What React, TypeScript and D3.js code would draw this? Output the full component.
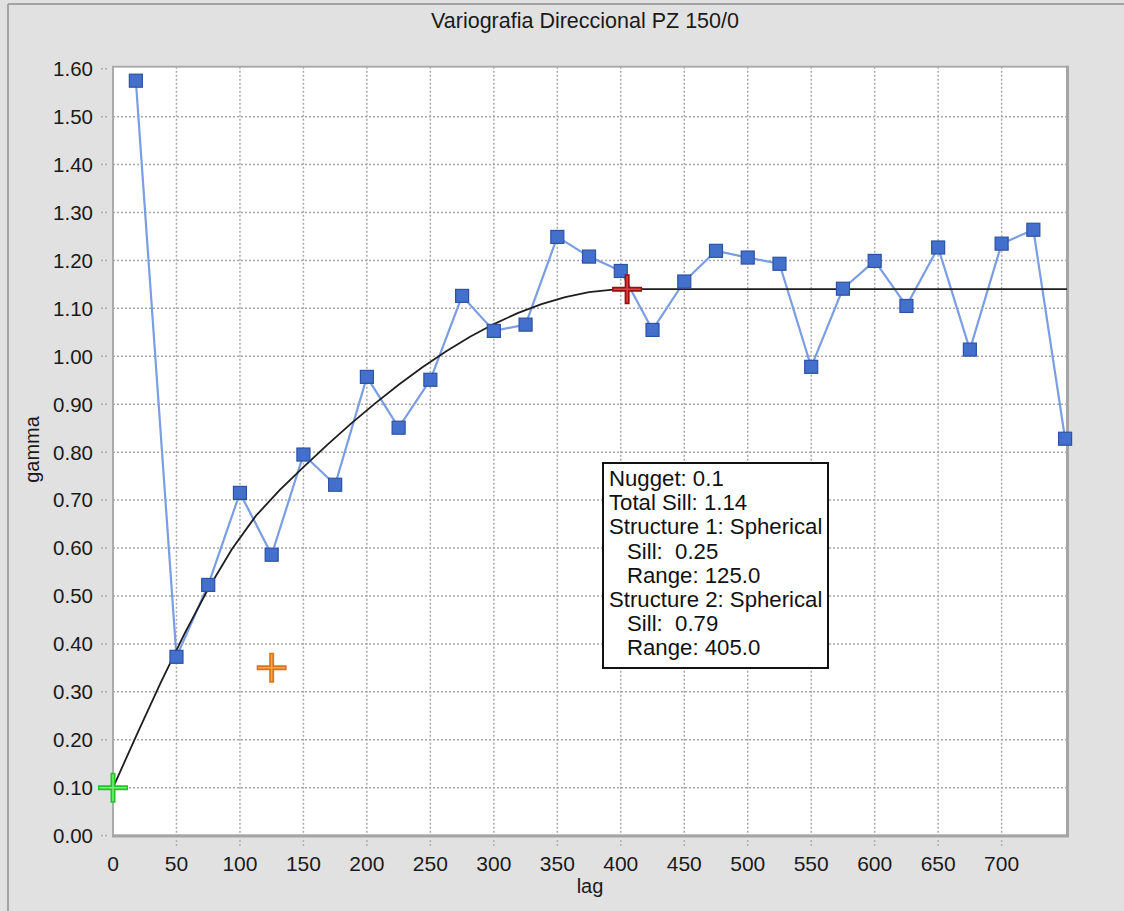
import React from "react";
import * as d3 from "d3";

// Experimental variogram: lag distances and gamma values
const lags = [18, 50, 75, 100, 125, 150, 175, 200, 225, 250, 275, 300, 325, 350, 375, 400, 425, 450, 475, 500, 525, 550, 575, 600, 625, 650, 675, 700, 725, 750];
const gammaValues = [1.575, 0.373, 0.523, 0.715, 0.586, 0.795, 0.732, 0.957, 0.851, 0.951, 1.126, 1.053, 1.066, 1.249, 1.208, 1.178, 1.055, 1.156, 1.22, 1.206, 1.193, 0.978, 1.141, 1.199, 1.105, 1.227, 1.014, 1.235, 1.264, 0.828];

// Fitted model parameters
const nugget = 0.1;
const structureTypes = ["Spherical", "Spherical"];
const structureSills = [0.25, 0.79];
const structureRanges = [125, 405];

// Axis ticks
const xTicks = [0, 50, 100, 150, 200, 250, 300, 350, 400, 450, 500, 550, 600, 650, 700];
const yTicks = [0, 0.1, 0.2, 0.3, 0.4, 0.5, 0.6, 0.7, 0.8, 0.9, 1.0, 1.1, 1.2, 1.3, 1.4, 1.5, 1.6];

const W = 1124;
const H = 911;
const left = 113;
const right = 1067;
const top = 66.7;
const bottom = 835.6;
const font = "'Liberation Sans', Arial, sans-serif";

const spherical = (h: number, a: number) => (h >= a ? 1 : 1.5 * (h / a) - 0.5 * Math.pow(h / a, 3));
const model = (h: number) =>
  nugget + structureSills.reduce((s, c, i) => s + c * spherical(h, structureRanges[i]), 0);

export default function App() {
  const x = d3.scaleLinear().domain([0, 751.5]).range([left, right]);
  const y = d3.scaleLinear().domain([0, 1.6]).range([bottom, 68.7]);

  const pts = lags.map((l, i) => [l, gammaValues[i]] as [number, number]);
  const dataLine = d3.line<[number, number]>().x((d) => x(d[0])).y((d) => y(d[1]))(pts) || "";

  // model curve sampled in 40 steps over the lag span
  const step = 18.75;
  const modelPts: [number, number][] = [];
  for (let h = 0; h <= 751.5; h += step) modelPts.push([h, model(h)]);
  modelPts.push([751.5, model(751.5)]);
  const modelLine = d3.line<[number, number]>().x((d) => x(d[0])).y((d) => y(d[1]))(modelPts) || "";

  const totalSill = nugget + structureSills.reduce((a, b) => a + b, 0);
  const markers = [
    { h: 0, g: nugget, outer: "#22c322", inner: "#7ef07e" },
    { h: structureRanges[0], g: nugget + structureSills[0], outer: "#d9761a", inner: "#f6a748" },
    { h: structureRanges[1], g: totalSill, outer: "#9e0c0c", inner: "#d84848" },
  ];

  const legendLines: { text: string; indent: boolean }[] = [
    { text: `Nugget: ${nugget}`, indent: false },
    { text: `Total Sill: ${totalSill.toFixed(2)}`, indent: false },
  ];
  structureSills.forEach((s, i) => {
    legendLines.push({ text: `Structure ${i + 1}: ${structureTypes[i]}`, indent: false });
    legendLines.push({ text: `Sill:  ${s.toFixed(2)}`, indent: true });
    legendLines.push({ text: `Range: ${structureRanges[i].toFixed(1)}`, indent: true });
  });

  const crossPath = (cx: number, cy: number, r: number) =>
    `M${cx - r},${cy}H${cx + r}M${cx},${cy - r}V${cy + r}`;

  return (
    <svg width={W} height={H} style={{ display: "block", position: "fixed", left: 0, top: 0, fontFamily: font }}>
      <rect x={0} y={0} width={W} height={H} fill="#e1e1e1" />
      {/* panel edges */}
      <line x1={8} x2={W} y1={4} y2={4} stroke="#a3a3a3" strokeWidth={2} />
      <line x1={8} x2={8} y1={4} y2={H} stroke="#a3a3a3" strokeWidth={2} />

      <text x={585} y={28} textAnchor="middle" fontSize={21.5} fill="#1a1a1a">
        Variografia Direccional PZ 150/0
      </text>

      {/* plot area */}
      <rect x={left} y={top} width={right - left} height={bottom - top} fill="#fff" />

      {/* grid */}
      {yTicks.slice(1, -1).map((t) => (
        <line key={"gy" + t} x1={left} x2={right} y1={y(t)} y2={y(t)} stroke="#a8a8a8" strokeWidth={1.5} strokeDasharray="2,2" />
      ))}
      {xTicks.slice(1).map((t) => (
        <line key={"gx" + t} x1={x(t)} x2={x(t)} y1={top} y2={bottom} stroke="#a8a8a8" strokeWidth={1.5} strokeDasharray="2,2" />
      ))}

      {/* outer ticks */}
      {yTicks.map((t) => (
        <line key={"ty" + t} x1={101} x2={109} y1={y(t)} y2={y(t)} stroke="#b0b0b0" strokeWidth={1.5} strokeDasharray="2,2" />
      ))}
      {xTicks.slice(1).map((t) => (
        <line key={"tx" + t} x1={x(t)} x2={x(t)} y1={840} y2={848} stroke="#b0b0b0" strokeWidth={1.5} strokeDasharray="2,2" />
      ))}

      {/* plot border */}
      <rect x={left} y={top} width={right - left} height={bottom - top} fill="none" stroke="#ababab" strokeWidth={2} />
      <line x1={right + 0.5} x2={right + 0.5} y1={top - 1} y2={bottom + 1.5} stroke="#a5a5a5" strokeWidth={3} />
      <line x1={left - 1} x2={right + 2} y1={bottom + 0.5} y2={bottom + 0.5} stroke="#a5a5a5" strokeWidth={3} />

      {/* tick labels */}
      {yTicks.map((t) => (
        <text key={"ly" + t} x={93} y={y(t)} dy="0.36em" textAnchor="end" fontSize={20.5} fill="#1a1a1a">
          {t.toFixed(2)}
        </text>
      ))}
      {xTicks.map((t) => (
        <text key={"lx" + t} x={x(t)} y={871} textAnchor="middle" fontSize={21} fill="#1a1a1a">
          {t}
        </text>
      ))}

      <text x={590} y={893} textAnchor="middle" fontSize={20} fill="#1a1a1a">lag</text>
      <text transform="translate(39,449.5) rotate(-90)" textAnchor="middle" fontSize={20} fill="#1a1a1a">gamma</text>

      {/* experimental points */}
      <path d={dataLine} fill="none" stroke="#7a9de4" strokeWidth={2.2} strokeLinejoin="round" />
      {/* fitted model */}
      <path d={modelLine} fill="none" stroke="#1e1e1e" strokeWidth={1.8} />
      {pts.map((p, i) => (
        <rect key={"p" + i} x={x(p[0]) - 6.5} y={y(p[1]) - 6.5} width={13} height={13} fill="#4270cc" stroke="#2d52a3" strokeWidth={1.2} />
      ))}

      {/* model markers */}
      {markers.map((m, i) => (
        <g key={"m" + i}>
          <path d={crossPath(x(m.h), y(m.g), 15)} stroke={m.outer} strokeWidth={5} fill="none" />
          <path d={crossPath(x(m.h), y(m.g), 13.5)} stroke={m.inner} strokeWidth={1.5} fill="none" />
        </g>
      ))}

      {/* parameter box */}
      <rect x={603} y={463} width={225} height={205} fill="#fff" stroke="#111" strokeWidth={2} />
      {legendLines.map((l, i) => (
        <text key={"lg" + i} x={l.indent ? 627 : 609} y={486 + i * 24.2} fontSize={22.2} fill="#111" style={{ whiteSpace: "pre" }}>
          {l.text}
        </text>
      ))}
    </svg>
  );
}
